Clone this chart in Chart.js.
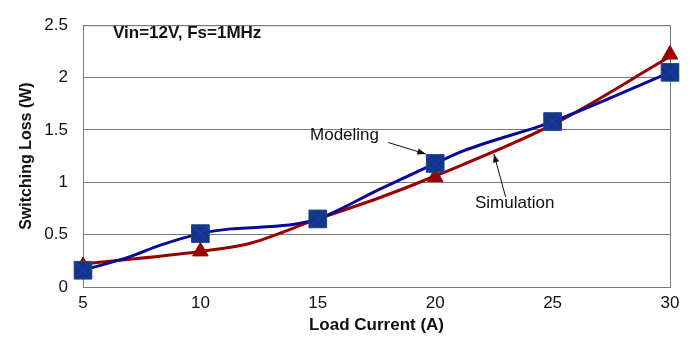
<!DOCTYPE html>
<html>
<head>
<meta charset="utf-8">
<script src="https://cdn.jsdelivr.net/npm/chart.js@4"></script>
<style>
  html, body { margin:0; padding:0; background:#fff; }
  #wrap { width:700px; height:337px; }
</style>
</head>
<body>
<div id="wrap"><canvas id="c" width="700" height="337"></canvas></div>
<script>
// values
const xTicks = [5, 10, 15, 20, 25, 30];
const yTicks = [0, 0.5, 1, 1.5, 2, 2.5];

// Modeling curve (blue), extra knots between the marked points
const modX = [5, 7, 8.3, 10, 11.3, 12.5, 14, 15, 17.6, 20, 21.2, 25, 30];
const modY = [0.16, 0.29, 0.40, 0.51, 0.555, 0.57, 0.60, 0.65, 0.93, 1.18, 1.30, 1.58, 2.05];

// Simulation curve (red)
const simX = [5, 10, 12, 15, 17.6, 20, 25, 30];
const simY = [0.22, 0.34, 0.41, 0.65, 0.85, 1.06, 1.55, 2.2];

// marker values at the load points
const modMark = [0.16, 0.51, 0.65, 1.18, 1.58, 2.05];
const simMark = [0.2, 0.34, 0.65, 1.05, 1.55, 2.22];

const BLUE = '#0a0a9a';
const SQ = '#0e3a78';
const RED = '#990000';
const FONT = 'Liberation Sans, Arial, sans-serif';

const pts = (xs, ys) => xs.map((x, i) => ({ x, y: ys[i] }));

// box, labels and arrows
const extras = {
  id: 'extras',
  beforeDatasetsDraw(chart) {
    const { ctx, chartArea: a } = chart;
    ctx.save();
    ctx.strokeStyle = '#7a7a7a';
    ctx.lineWidth = 1;
    ctx.strokeRect(a.left + 0.5, a.top + 0.5, a.right - a.left, a.bottom - a.top);
    ctx.restore();
  },
  afterDraw(chart) {
    const { ctx, scales: { x, y } } = chart;
    ctx.save();
    ctx.fillStyle = '#111';
    ctx.font = 'bold 17px ' + FONT;
    ctx.textBaseline = 'middle';
    ctx.fillText('Vin=12V, Fs=1MHz', 113, 33);

    ctx.font = '17px ' + FONT;
    ctx.textAlign = 'right';
    ctx.fillText('Modeling', 379, 135);
    ctx.textAlign = 'left';
    ctx.fillText('Simulation', 475, 203);

    function arrow(x1, y1, x2, y2) {
      ctx.strokeStyle = '#111';
      ctx.lineWidth = 1;
      ctx.beginPath(); ctx.moveTo(x1, y1); ctx.lineTo(x2, y2); ctx.stroke();
      const ang = Math.atan2(y2 - y1, x2 - x1);
      ctx.beginPath();
      ctx.moveTo(x2, y2);
      ctx.lineTo(x2 - 9 * Math.cos(ang - 0.35), y2 - 9 * Math.sin(ang - 0.35));
      ctx.lineTo(x2 - 9 * Math.cos(ang + 0.35), y2 - 9 * Math.sin(ang + 0.35));
      ctx.closePath();
      ctx.fillStyle = '#111';
      ctx.fill();
    }
    arrow(x.getPixelForValue(18.0), y.getPixelForValue(1.38), x.getPixelForValue(19.6), y.getPixelForValue(1.27));
    arrow(x.getPixelForValue(23.0), y.getPixelForValue(0.86), x.getPixelForValue(22.5), y.getPixelForValue(1.27));
    ctx.restore();
  }
};

new Chart(document.getElementById('c'), {
  type: 'scatter',
  data: {
    datasets: [
      { data: pts(simX, simY), showLine: true, borderColor: RED, borderWidth: 3, pointRadius: 0,
        cubicInterpolationMode: 'monotone', order: 4 },
      { data: pts(xTicks, simMark), showLine: false, pointStyle: 'triangle', pointRadius: 9,
        backgroundColor: RED, borderColor: RED, order: 3, clip: false },
      { data: pts(modX, modY), showLine: true, borderColor: BLUE, borderWidth: 3, pointRadius: 0,
        cubicInterpolationMode: 'monotone', order: 2 },
      { data: pts(xTicks, modMark), showLine: false, pointStyle: 'rect', pointRadius: 12.5,
        backgroundColor: SQ, borderColor: '#1a4a88', borderWidth: 1, order: 1, clip: false },
      { data: pts(xTicks, modMark), showLine: false, pointStyle: 'crossRot', pointRadius: 12,
        borderColor: '#2a2ad0', borderWidth: 1.5, order: 0, clip: false }
    ]
  },
  options: {
    responsive: false,
    animation: false,
    layout: { padding: { left: 0, right: 30, top: 12, bottom: 0 } },
    plugins: { legend: { display: false }, tooltip: { enabled: false } },
    scales: {
      x: {
        type: 'linear', min: 5, max: 30,
        afterBuildTicks: s => { s.ticks = xTicks.map(v => ({ value: v })); },
        afterFit: s => { s.height = 50; },
        grid: { display: false, drawTicks: false },
        border: { display: true, color: '#7a7a7a' },
        ticks: { color: '#111', font: { family: FONT, size: 17 }, padding: 6, maxRotation: 0,
          callback: v => String(v) },
        title: { display: true, text: 'Load Current (A)', color: '#111',
          font: { family: FONT, size: 17, weight: 'bold' }, padding: { top: 0, bottom: 1 } }
      },
      y: {
        min: 0, max: 2.5,
        afterBuildTicks: s => { s.ticks = yTicks.map(v => ({ value: v })); },
        afterFit: s => { s.width = 83; },
        grid: { color: '#7a7a7a', lineWidth: 1, drawTicks: false },
        border: { display: true, color: '#7a7a7a' },
        ticks: { color: '#111', font: { family: FONT, size: 17 }, padding: 15,
          callback: v => String(v) },
        title: { display: true, text: 'Switching Loss (W)', color: '#111',
          font: { family: FONT, size: 16, weight: 'bold' }, padding: { top: 17, bottom: 0 } }
      }
    }
  },
  plugins: [extras]
});
</script>
</body>
</html>
